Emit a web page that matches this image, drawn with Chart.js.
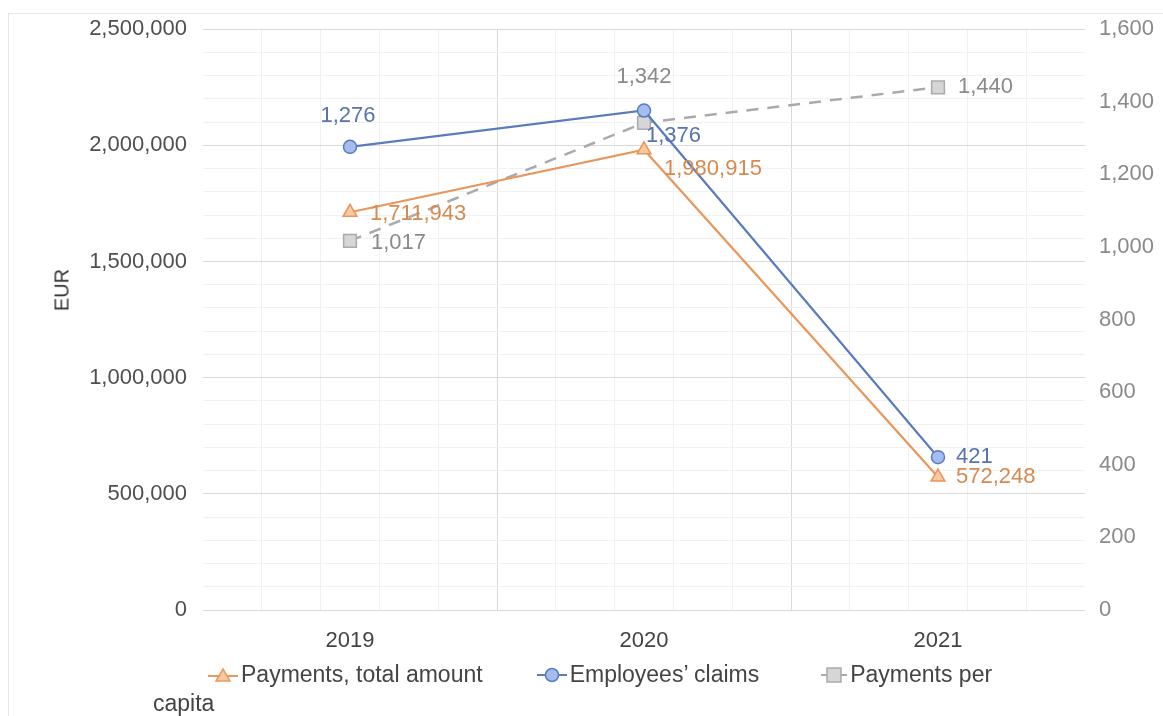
<!DOCTYPE html>
<html lang="en">
<head>
  <meta charset="UTF-8">
  <title>Payments and employees' claims</title>
  <script src="https://cdn.jsdelivr.net/npm/chart.js"></script>
  <style>
    body {
      margin: 0;
      background: #fff;
      font-family: Arial, "Liberation Sans", sans-serif;
    }
    #wrap {
      position: relative;
      width: 1163px;
      height: 716px;
      overflow: hidden;
    }
    #frame {
      position: absolute;
      left: 8px;
      top: 13px;
      width: 1180px;
      height: 730px;
      border: 1px solid #e6e6e6;
    }
    canvas {
      position: absolute;
      left: 0;
      top: 0;
    }
    #ytitle {
      position: absolute;
      left: 62px;
      top: 290px;
      transform: translate(-50%, -50%) rotate(-90deg);
      font-size: 20px;
      color: #333;
    }
    #legend {
      position: absolute;
      left: 153px;
      top: 660px;
      width: 850px;
      font-size: 23px;
      line-height: 29px;
      color: #444;
      text-indent: 55px;
    }
    #legend svg {
      vertical-align: -1px;
      margin-right: 3px;
    }
  </style>
</head>
<body>
  <div id="wrap">
    <div id="frame"></div>
    <canvas id="grafica" width="1163" height="716"></canvas>
    <div id="ytitle">EUR</div>
    <div id="legend"><svg width="30" height="16" viewBox="0 0 30 16"><line x1="0" y1="9" x2="30" y2="9" stroke="#eb9a5c" stroke-width="2"/><polygon points="15,2 22,14 8,14" fill="#f7c9a2" stroke="#eb9a5c" stroke-width="1.5"/></svg>Payments, total amount<span style="margin-left:54px"></span><svg width="30" height="16" viewBox="0 0 30 16"><line x1="0" y1="8" x2="30" y2="8" stroke="#5b7bbf" stroke-width="2"/><circle cx="15" cy="8" r="6.5" fill="#a4bdf0" stroke="#5b7bbf" stroke-width="1.5"/></svg>Employees’ claims<span style="margin-left:62px"></span><svg width="26" height="16" viewBox="0 0 26 16"><line x1="0" y1="8" x2="26" y2="8" stroke="#aaa" stroke-width="2"/><rect x="6" y="1" width="14" height="14" fill="#d6d6d6" stroke="#aaa" stroke-width="1.5"/></svg>Payments per capita</div>
  </div>

  <script>
    const years = ['2019', '2020', '2021'];
    const paymentsTotal = [1711943, 1980915, 572248];
    const employeesClaims = [1276, 1376, 421];
    const paymentsPerCapita = [1017, 1342, 1440];

    const leftMax = 2500000;
    const leftMajor = 500000;
    const leftMinor = 100000;
    const rightMax = 1600;
    const rightStep = 200;

    // where each value label sits next to its point
    const posTotal = [
      { dx: 20, dy: 2, align: 'left' },
      { dx: 20, dy: 19, align: 'left' },
      { dx: 18, dy: 0, align: 'left' }
    ];
    const posClaims = [
      { dx: -2, dy: -31, align: 'center' },
      { dx: 2, dy: 25, align: 'left' },
      { dx: 18, dy: 0, align: 'left' }
    ];
    const posCapita = [
      { dx: 21, dy: 2, align: 'left' },
      { dx: 0, dy: -46, align: 'center' },
      { dx: 20, dy: 0, align: 'left' }
    ];

    const FONT = 'Arial, "Liberation Sans", sans-serif';

    const pointLabels = {
      id: 'pointLabels',
      afterDatasetsDraw(chart) {
        const ctx = chart.ctx;
        ctx.save();
        ctx.font = '22px ' + FONT;
        ctx.textBaseline = 'middle';
        chart.data.datasets.forEach((ds, i) => {
          const meta = chart.getDatasetMeta(i);
          meta.data.forEach((pt, j) => {
            const p = ds.labelPos[j];
            ctx.fillStyle = ds.labelColor;
            ctx.textAlign = p.align;
            ctx.fillText(ds.data[j].toLocaleString('en-US'), pt.x + p.dx, pt.y + p.dy);
          });
        });
        ctx.restore();
      }
    };

    new Chart(document.getElementById('grafica'), {
      type: 'line',
      data: {
        labels: years,
        datasets: [
          {
            label: 'Payments, total amount',
            data: paymentsTotal,
            yAxisID: 'y',
            borderColor: '#e9965a',
            borderWidth: 2.2,
            pointStyle: 'triangle',
            pointRadius: 8,
            pointBackgroundColor: '#f7c9a2',
            pointBorderColor: '#e9965a',
            pointBorderWidth: 1.5,
            labelColor: '#d68a4f',
            labelPos: posTotal
          },
          {
            label: 'Employees’ claims',
            data: employeesClaims,
            yAxisID: 'y1',
            borderColor: '#5b7bbf',
            borderWidth: 2.2,
            pointStyle: 'circle',
            pointRadius: 6.5,
            pointBackgroundColor: '#a4bdf0',
            pointBorderColor: '#5b7bbf',
            pointBorderWidth: 1.5,
            labelColor: '#5873ad',
            labelPos: posClaims
          },
          {
            label: 'Payments per capita',
            data: paymentsPerCapita,
            yAxisID: 'y1',
            borderColor: '#aaaaaa',
            borderWidth: 2.5,
            borderDash: [12, 9],
            pointStyle: 'rect',
            pointRadius: 9,
            pointBackgroundColor: '#d6d6d6',
            pointBorderColor: '#aaaaaa',
            pointBorderWidth: 1.5,
            labelColor: '#8a8a8a',
            labelPos: posCapita
          }
        ]
      },
      options: {
        responsive: false,
        animation: false,
        devicePixelRatio: 1,
        layout: { padding: { top: 27, left: 0, right: 0, bottom: 56 } },
        plugins: {
          legend: { display: false },
          tooltip: { enabled: false }
        },
        scales: {
          x: {
            type: 'category',
            offset: true,
            grid: { display: false },
            border: { display: false },
            ticks: { color: '#444', font: { size: 22, family: FONT }, padding: 10 },
            afterFit(s) { s.height = 50; }
          },
          xg: {
            type: 'linear',
            position: 'bottom',
            min: 0,
            max: 15,
            ticks: { display: false, stepSize: 1 },
            border: { display: false },
            grid: {
              drawTicks: false,
              color: c => (c.index === 0 || c.index === 15) ? 'rgba(0,0,0,0)' :
                          (c.index % 5 === 0 ? '#dadada' : '#f1f1f1')
            },
            afterFit(s) { s.height = 0; }
          },
          y: {
            position: 'left',
            min: 0,
            max: leftMax,
            border: { display: false },
            grid: {
              drawTicks: false,
              color: c => (c.tick.value % leftMajor === 0 ? '#dadada' : '#f1f1f1')
            },
            ticks: {
              stepSize: leftMinor,
              autoSkip: false,
              padding: 16,
              color: '#4f4f4f',
              font: { size: 22, family: FONT },
              callback: v => (v % leftMajor === 0 ? v.toLocaleString('en-US') : '')
            },
            afterFit(s) { s.width = 203; }
          },
          y1: {
            position: 'right',
            min: 0,
            max: rightMax,
            border: { display: false },
            grid: { display: false, drawTicks: false },
            ticks: {
              stepSize: rightStep,
              padding: 14,
              color: '#8a8a8a',
              font: { size: 22, family: FONT },
              callback: v => v.toLocaleString('en-US')
            },
            afterFit(s) { s.width = 78; }
          }
        }
      },
      plugins: [pointLabels]
    });
  </script>
</body>
</html>
